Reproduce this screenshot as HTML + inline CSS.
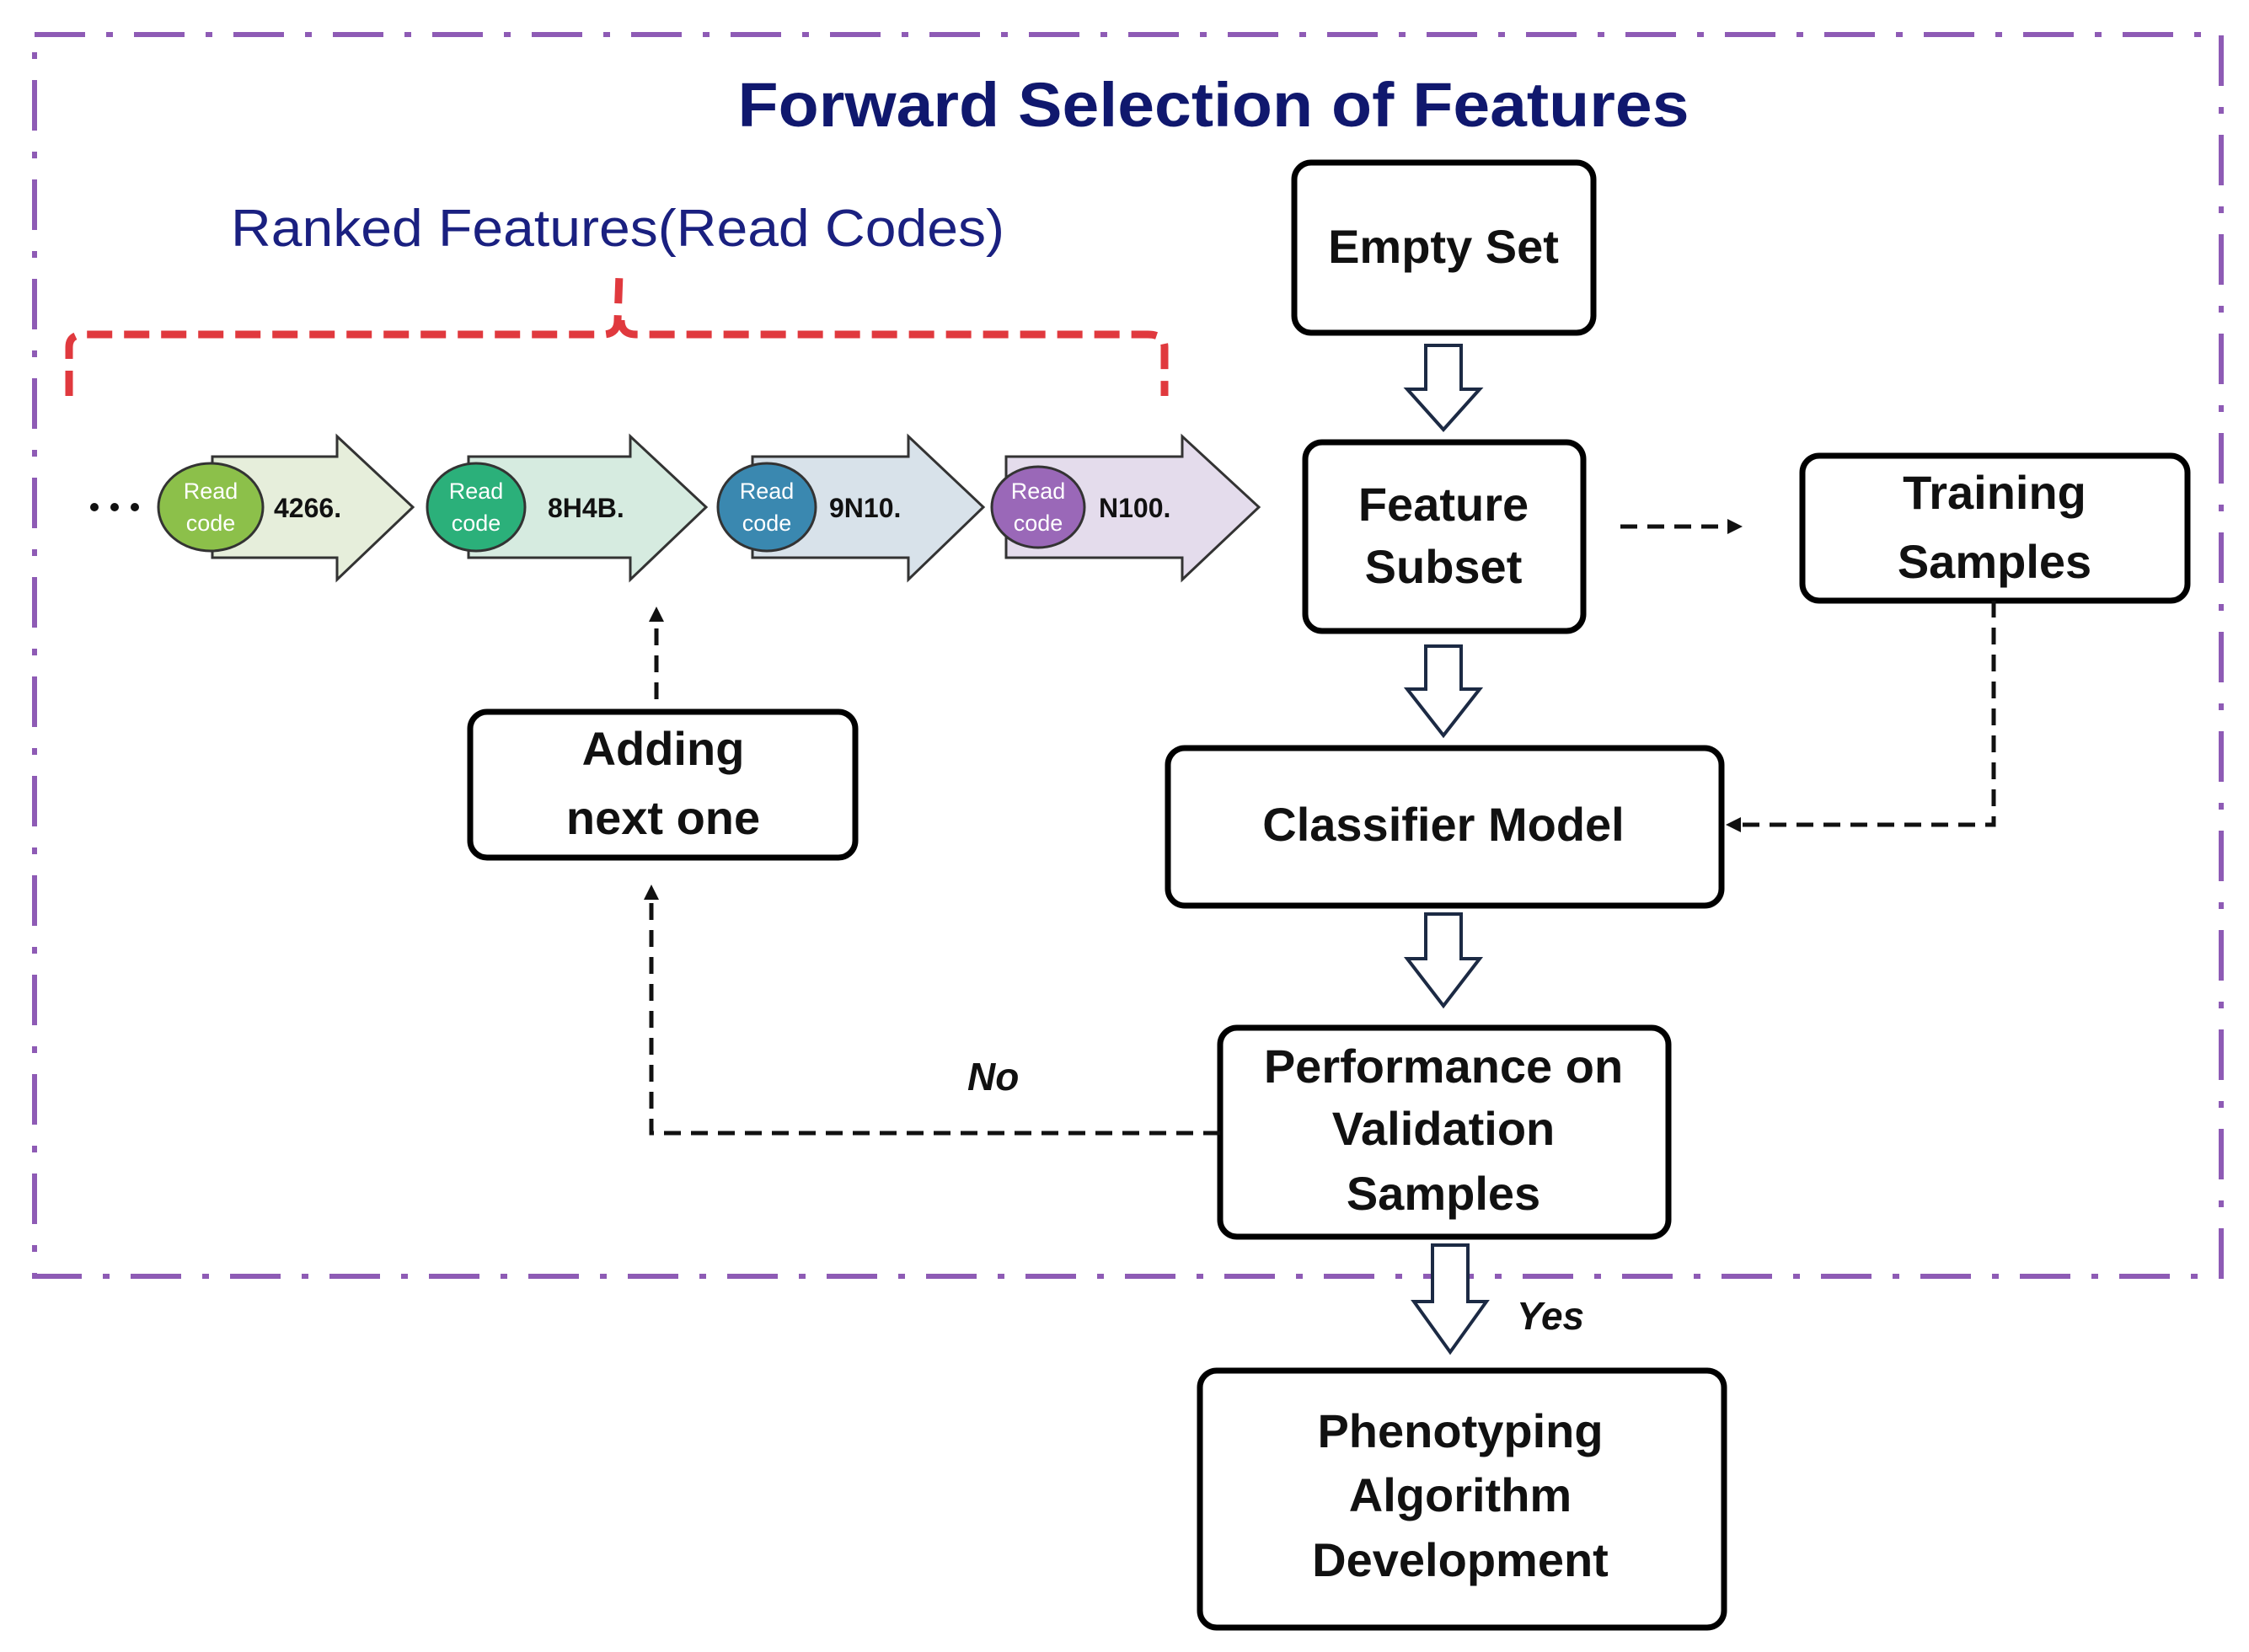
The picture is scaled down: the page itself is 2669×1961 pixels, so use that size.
<!DOCTYPE html>
<html><head><meta charset="utf-8"><style>html,body{margin:0;padding:0;background:#fff}svg{display:block}</style></head>
<body>
<svg width="2669" height="1961" viewBox="0 0 2669 1961" xmlns="http://www.w3.org/2000/svg" font-family="'Liberation Sans', sans-serif">
<defs>
<marker id="ah" markerWidth="18" markerHeight="18" refX="10" refY="9" orient="auto" markerUnits="userSpaceOnUse" viewBox="0 0 18 18"><path d="M0,0 L18,9 L0,18 z" fill="#111"/></marker>
</defs>
<rect x="41" y="41" width="2595" height="1474" fill="none" stroke="#8e5bb5" stroke-width="6" stroke-dasharray="60,25,8,25"/>
<text x="1440" y="150" text-anchor="middle" font-size="74" font-weight="bold" fill="#10186e" textLength="1129" lengthAdjust="spacingAndGlyphs">Forward Selection of Features</text>
<text x="274" y="292" font-size="62" fill="#1a2080" textLength="918" lengthAdjust="spacingAndGlyphs">Ranked Features(Read Codes)</text>
<path d="M82,470 L82,412 Q82,397 100,397 L715,397 Q733,397 733,380 L735,325 M737,380 Q737,397 755,397 L1362,397 Q1382,397 1382,412 L1382,470" fill="none" stroke="#e0393e" stroke-width="9" stroke-dasharray="30,14"/>
<circle cx="112" cy="602" r="5" fill="#111"/><circle cx="136" cy="602" r="5" fill="#111"/><circle cx="160" cy="602" r="5" fill="#111"/>
<g stroke="#333" stroke-width="3">
<path d="M252,542 L400,542 L400,518 L490,602 L400,688 L400,662 L252,662 z" fill="#e6eedb"/>
<ellipse cx="250" cy="602" rx="62" ry="52" fill="#8cc04a"/>
<path d="M556,542 L748,542 L748,518 L838,602 L748,688 L748,662 L556,662 z" fill="#d6ebe0"/>
<ellipse cx="565" cy="602" rx="58" ry="52" fill="#2bb07a"/>
<path d="M893,542 L1078,542 L1078,518 L1167,602 L1078,688 L1078,662 L893,662 z" fill="#d8e2ea"/>
<ellipse cx="910" cy="602" rx="58" ry="52" fill="#3a88b0"/>
<path d="M1194,542 L1403,542 L1403,518 L1494,602 L1403,688 L1403,662 L1194,662 z" fill="#e4dcec"/>
<ellipse cx="1232" cy="602" rx="55" ry="48" fill="#9a68b8"/>
</g>
<g fill="#fff" font-size="27" text-anchor="middle">
<text x="250" y="592">Read</text><text x="250" y="630">code</text>
<text x="565" y="592">Read</text><text x="565" y="630">code</text>
<text x="910" y="592">Read</text><text x="910" y="630">code</text>
<text x="1232" y="592">Read</text><text x="1232" y="630">code</text>
</g>
<g font-size="32" font-weight="bold" fill="#111">
<text x="325" y="614">4266.</text><text x="650" y="614">8H4B.</text><text x="984" y="614">9N10.</text><text x="1304" y="614">N100.</text>
</g>
<g fill="#fff" stroke="#000" stroke-width="7">
<rect x="1536" y="193" width="355" height="202" rx="20"/>
<rect x="1549" y="525" width="330" height="224" rx="20"/>
<rect x="2139" y="541" width="457" height="172" rx="20"/>
<rect x="1386" y="888" width="657" height="187" rx="20"/>
<rect x="1448" y="1220" width="532" height="248" rx="20"/>
<rect x="1424" y="1627" width="622" height="305" rx="20"/>
<rect x="558" y="845" width="457" height="173" rx="20"/>
</g>
<g font-size="56" font-weight="bold" fill="#111" text-anchor="middle">
<text x="1713" y="312">Empty Set</text>
<text x="1713" y="618">Feature</text><text x="1713" y="692">Subset</text>
<text x="2367" y="604">Training</text><text x="2367" y="686">Samples</text>
<text x="1713" y="998">Classifier Model</text>
<text x="1713" y="1285">Performance on</text><text x="1713" y="1359">Validation</text><text x="1713" y="1436">Samples</text>
<text x="1733" y="1718">Phenotyping</text><text x="1733" y="1794">Algorithm</text><text x="1733" y="1871">Development</text>
<text x="787" y="908">Adding</text><text x="787" y="990">next one</text>
</g>
<g fill="#fff" stroke="#1c2a44" stroke-width="4">
<path d="M1692,410 L1734,410 L1734,462 L1756,462 L1713,510 L1670,462 L1692,462 z"/>
<path d="M1692,767 L1734,767 L1734,818 L1756,818 L1713,873 L1670,818 L1692,818 z"/>
<path d="M1692,1085 L1734,1085 L1734,1138 L1756,1138 L1713,1194 L1670,1138 L1692,1138 z"/>
<path d="M1700,1478 L1742,1478 L1742,1545 L1764,1545 L1721,1605 L1678,1545 L1700,1545 z"/>
</g>
<g fill="none" stroke="#111" stroke-width="5" stroke-dasharray="20,12">
<path d="M1923,625 L2060,625" marker-end="url(#ah)"/>
<path d="M2366,713 L2366,979 L2056,979" marker-end="url(#ah)"/>
<path d="M1448,1345 L773,1345 L773,1058" marker-end="url(#ah)"/>
<path d="M779,830 L779,728" marker-end="url(#ah)"/>
</g>
<text x="1148" y="1294" font-size="46" font-weight="bold" font-style="italic" fill="#111">No</text>
<text x="1800" y="1578" font-size="46" font-weight="bold" font-style="italic" fill="#111">Yes</text>
</svg>
</body></html>
